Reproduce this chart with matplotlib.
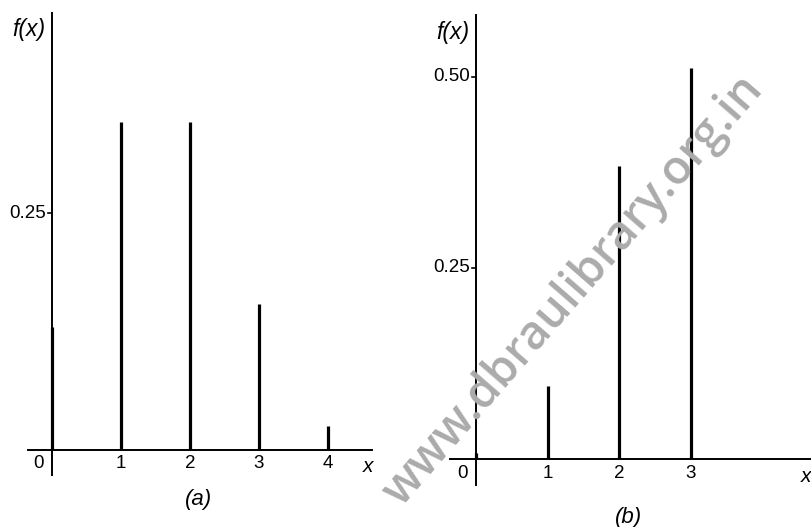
import matplotlib
matplotlib.use("Agg")
import matplotlib.pyplot as plt

# probability functions for the two panels
xa = [0, 1, 2, 3, 4]
fa = [0.1296, 0.3456, 0.3456, 0.1536, 0.0256]
xb = [0, 1, 2, 3]
fb = [0.008, 0.096, 0.384, 0.512]

ticks_a = ["0", "1", "2", "3", "4"]
ticks_b = ["0", "1", "2", "3"]
yticks_a = [0.25]
yticks_b = [0.25, 0.50]

W, H = 812, 527
plt.rcParams['font.family'] = ['Liberation Sans', 'DejaVu Sans']

fig = plt.figure(figsize=(W / 100, H / 100), dpi=100)
fig.patch.set_facecolor("white")


def px_axes(left, right, top, bottom):
    return fig.add_axes([left / W, 1 - bottom / H, (right - left) / W, (bottom - top) / H])


def panel(ax, xs, fs, labels, yt, ylabels, xlim, ylim, caption, cap_y):
    ax.set_xlim(*xlim)
    ax.set_ylim(*ylim)
    ax.axis("off")
    # axes drawn by hand, like the book figure
    ax.plot([xlim[0], xlim[1]], [0, 0], color="black", lw=1.4, clip_on=False, zorder=3)
    ax.plot([0, 0], [ylim[0], ylim[1]], color="black", lw=1.4, clip_on=False, zorder=3)
    ax.vlines(xs, 0, fs, color="black", lw=2.3, zorder=4)
    dx = (xlim[1] - xlim[0]) / ax.bbox.width
    dy = (ylim[1] - ylim[0]) / ax.bbox.height
    for v, s in zip(yt, ylabels):
        ax.plot([-4 * dx, 0], [v, v], color="black", lw=1.2)
        ax.text(-6 * dx, v, s, ha="right", va="center", fontsize=13.5)
    for x, s in zip(xs, labels):
        off = -14 * dx if x == 0 else 0
        ax.text(x + off, -14 * dy, s, ha="center", va="center", fontsize=13.5)
    ax.text(xlim[1] - 4 * dx, -17 * dy, "x", ha="center", va="center",
            fontsize=15, style="italic")
    ax.text(-23 * dx, ylim[1] - 17 * dy, "f(x)", ha="center", va="center",
            fontsize=16.5, style="italic")
    ax.text(xs[2] + 9 * dx, cap_y * dy, caption, ha="center", va="center",
            fontsize=16, style="italic")


ax_a = px_axes(28, 372, 13, 475)
panel(ax_a, xa, fa, ticks_a, yticks_a, ["0.25"],
      (-0.348, 4.638), (-0.0264, 0.461), "(a)", -50)

ax_b = px_axes(450, 810, 15, 485)
panel(ax_b, xb, fb, ticks_b, yticks_b, ["0.25", "0.50"],
      (-0.364, 4.67), (-0.034, 0.581), "(b)", -58)

# site stamp across the right panel
fig.text(573 / W, 1 - 291 / H, "www.dbraulibrary.org.in", rotation=49,
         ha="center", va="center", fontsize=34, fontweight="semibold",
         family="Open Sans", color="#ababab", zorder=0)

fig.savefig("out.png", dpi=100, facecolor="white")
